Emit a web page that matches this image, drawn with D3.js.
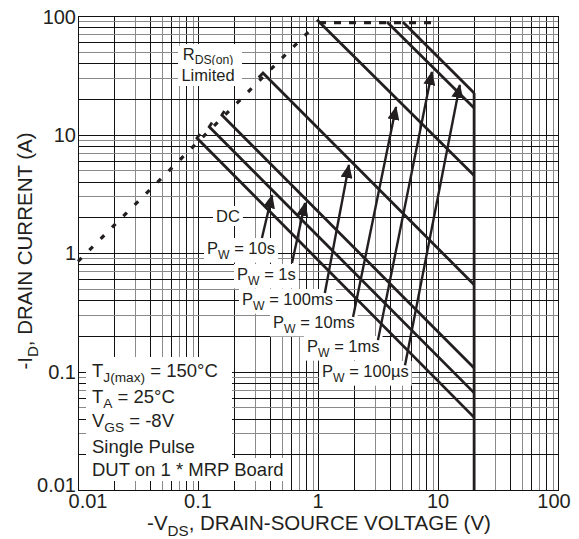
<!DOCTYPE html>
<meta charset="utf-8">
<style>
body { margin: 0; background: #fff; }
text { font-family: "Liberation Sans", Arial, sans-serif; fill: #231f20; }
.grid line { shape-rendering: crispEdges; }
.curve { fill: none; stroke: #231f20; stroke-width: 2.8; stroke-linejoin: miter; }
.rds { fill: none; stroke: #231f20; stroke-width: 3.2; stroke-dasharray: 5,11; }
.rds.flat { stroke-dasharray: 7,8; }
.arrow { stroke: #231f20; stroke-width: 2.4; fill: none; }
</style>
<svg width="579" height="539"></svg>
<script src="https://cdnjs.cloudflare.com/ajax/libs/d3/7.8.5/d3.min.js"></script>
<script>

// axis ticks
var tickValues = [0.01, 0.1, 1, 10, 100];
var tickLabels = ["0.01", "0.1", "1", "10", "100"];

// RDS(on) limit (dashed)
var rdsDiag = [[0.01, 0.85], [0.95, 84]];
var rdsFlat = [[1.02, 88], [9.0, 88]];

// pulse width curves, -VDS (V), -ID (A)
var pulse100us = [[5.1, 89], [20, 22.4]];
var pulse1ms = [[3.76, 89], [20, 16.7]];
var pulse10ms = [[0.98, 93], [20, 4.5]];
var pulse100ms = [[0.32, 30.3], [0.348, 33], [20, 0.54]];
var pulse1s = [[0.166, 15.8], [0.158, 14.6], [20, 0.107]];
var pulse10s = [[0.131, 12.6], [0.124, 11.6], [20, 0.066]];
var pulseDC = [[0.104, 10.1], [0.098, 9.33], [20, 0.041]];
var vdsLimit = [[20, 22.4], [20, 0.01]];

// arrows from label to curve
var arrowFrom = [[0.341, 1.34], [0.607, 0.824], [1.14, 0.46], [1.96, 0.288], [3.16, 0.184], [5.31, 0.113]];
var arrowTo = [[0.414, 3.08], [0.78, 2.64], [1.81, 5.53], [4.47, 17.1], [8.9, 33.7], [15.2, 26.2]];

var svg = d3.select("svg");
var pLeft = 78, pRight = 558, pTop = 16, pBottom = 490;

var x = d3.scaleLog().domain([0.01, 100]).range([pLeft, pRight]);
var y = d3.scaleLog().domain([0.01, 100]).range([pBottom, pTop]);

// grid
var minors = [];
for (var e = -2; e < 2; e++) {
  for (var m = 1; m < 10; m++) minors.push({v: m * Math.pow(10, e), m: m});
}
minors.push({v: 100, m: 1});

function gridColor(d) { return (d.m % 2 == 1 && d.m != 1) ? "#8a8a8a" : "#111"; }

var grid = svg.append("g").attr("class", "grid");
grid.selectAll(".vg").data(minors).enter().append("line")
    .attr("x1", function(d) { return Math.round(x(d.v)) + 0.5; })
    .attr("x2", function(d) { return Math.round(x(d.v)) + 0.5; })
    .attr("y1", pTop).attr("y2", pBottom)
    .attr("stroke", gridColor)
    .attr("stroke-width", 1);
grid.selectAll(".hg").data(minors).enter().append("line")
    .attr("y1", function(d) { return Math.round(y(d.v)) + 0.5; })
    .attr("y2", function(d) { return Math.round(y(d.v)) + 0.5; })
    .attr("x1", pLeft).attr("x2", pRight)
    .attr("stroke", gridColor)
    .attr("stroke-width", 1);

svg.append("rect")
    .attr("x", pLeft + 0.5).attr("y", pTop + 0.5)
    .attr("width", pRight - pLeft).attr("height", pBottom - pTop)
    .attr("fill", "none").attr("stroke", "#111").attr("stroke-width", 1);

// text helper: parts = [[text, isSub], ...]
function label(g, px, py, parts, size, anchor, bg, sub) {
  var drop = size * (sub || 0.28);
  var t = g.append("text")
      .attr("x", px).attr("y", py)
      .attr("font-size", size)
      .attr("text-anchor", anchor || "start");
  var shifted = false;
  parts.forEach(function(p) {
    var s = t.append("tspan").text(p[0]);
    if (p[1] && !shifted) { s.attr("font-size", size * 0.74).attr("dy", drop); shifted = true; }
    else if (!p[1] && shifted) { s.attr("dy", -drop); shifted = false; }
  });
  if (bg) {
    var b = t.node().getBBox();
    g.insert("rect", "text")
        .attr("x", b.x - 3).attr("y", b.y - 1)
        .attr("width", b.width + 6).attr("height", b.height + 2)
        .attr("fill", "#fff");
  }
  return t;
}

// labels with white backgrounds (drawn before curves)
var labels = svg.append("g");
function boxed(px, py, parts, size, anchor, sub) {
  var g = labels.append("g");
  label(g, px, py, parts, size, anchor, true, sub);
}

// white blocks behind the test conditions and the RDS label
labels.append("rect")
    .attr("x", 86).attr("y", 357)
    .attr("width", 146).attr("height", 124)
    .attr("fill", "#fff");
labels.append("rect")
    .attr("x", 178).attr("y", 46)
    .attr("width", 64).attr("height", 40)
    .attr("fill", "#fff");

boxed(208, 60, [["R", 0], ["DS(on)", 1]], 16.5, "middle", 0.24);
boxed(208, 81, [["Limited", 0]], 16.5, "middle");
boxed(216, 222, [["DC", 0]], 16.5);
boxed(207, 254, [["P", 0], ["W", 1], [" = 10s", 0]], 16.5);
boxed(237, 280, [["P", 0], ["W", 1], [" = 1s", 0]], 16.5);
boxed(242, 305, [["P", 0], ["W", 1], [" = 100ms", 0]], 16.5);
boxed(273, 328, [["P", 0], ["W", 1], [" = 10ms", 0]], 16.5);
boxed(307, 352, [["P", 0], ["W", 1], [" = 1ms", 0]], 16.5);
boxed(322, 377, [["P", 0], ["W", 1], [" = 100µs", 0]], 16.5);

boxed(92, 377, [["T", 0], ["J(max)", 1], [" = 150°C", 0]], 18.5);
boxed(92, 403, [["T", 0], ["A", 1], [" = 25°C", 0]], 18.5);
boxed(92, 427, [["V", 0], ["GS", 1], [" = -8V", 0]], 18.5);
boxed(92, 453, [["Single Pulse", 0]], 18.5);
boxed(92, 476, [["DUT on 1 * MRP Board", 0]], 18.5);

// curves
var line = d3.line()
    .x(function(d) { return x(d[0]); })
    .y(function(d) { return y(d[1]); });

svg.append("path").datum(rdsDiag).attr("class", "rds").attr("d", line);
svg.append("path").datum(rdsFlat).attr("class", "rds flat").attr("d", line);

[pulse100us, pulse1ms, pulse10ms, pulse100ms, pulse1s, pulse10s, pulseDC].forEach(function(c) {
  svg.append("path").datum(c).attr("class", "curve").attr("d", line);
});
svg.append("path").datum(vdsLimit).attr("class", "curve")
    .attr("stroke-width", 4).attr("d", line);

// arrows
svg.append("defs").append("marker")
    .attr("id", "head")
    .attr("markerUnits", "userSpaceOnUse")
    .attr("viewBox", "0 0 14 12")
    .attr("markerWidth", 14).attr("markerHeight", 12)
    .attr("refX", 13).attr("refY", 6)
    .attr("orient", "auto")
  .append("path")
    .attr("d", "M0,0 L14,6 L0,12 Z")
    .attr("fill", "#231f20");

svg.selectAll(".arrow").data(arrowFrom).enter().append("line")
    .attr("class", "arrow")
    .attr("x1", function(d) { return x(d[0]); })
    .attr("y1", function(d) { return y(d[1]); })
    .attr("x2", function(d, i) { return x(arrowTo[i][0]); })
    .attr("y2", function(d, i) { return y(arrowTo[i][1]); })
    .attr("marker-end", "url(#head)");

// axes labels
var xl = svg.append("g").attr("class", "xticks");
xl.selectAll("text").data(tickValues).enter().append("text")
    .attr("x", function(d, i) { return x(d) + (i == 0 ? 10 : i == 4 ? -4 : 0); })
    .attr("y", 508)
    .attr("text-anchor", "middle")
    .attr("font-size", 20)
    .text(function(d, i) { return tickLabels[i]; });

var yl = svg.append("g").attr("class", "yticks");
yl.selectAll("text").data(tickValues).enter().append("text")
    .attr("x", 76)
    .attr("y", function(d, i) { return y(d) + 7 - (i == 0 ? 5 : 0) + (i == 4 ? 1 : 0); })
    .attr("text-anchor", "end")
    .attr("font-size", 20)
    .text(function(d, i) { return tickLabels[i]; });

label(svg, 319, 530, [["-V", 0], ["DS", 1], [", DRAIN-SOURCE VOLTAGE (V)", 0]], 20.5, "middle");

var yt = svg.append("g").attr("transform", "translate(32,251) rotate(-90)");
label(yt, 0, 0, [["-I", 0], ["D", 1], [", DRAIN CURRENT (A)", 0]], 20.5, "middle");

</script>
